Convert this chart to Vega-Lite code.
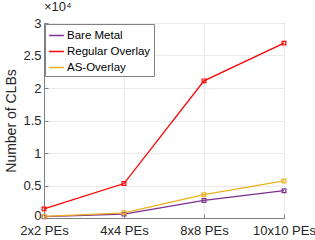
{
  "$schema": "https://vega.github.io/schema/vega-lite/v6.json",
  "width": 240,
  "height": 195,
  "autosize": {"type": "none"},
  "padding": {"left": 44, "top": 23, "right": 31, "bottom": 22},
  "background": "white",
  "title": {"text": "×10⁴", "anchor": "start", "frame": "group", "fontSize": 13, "fontWeight": "normal", "font": "Liberation Sans", "color": "#262626", "offset": 3, "dx": 0},
  "config": {
    "font": "Liberation Sans",
    "view": {"stroke": "#808080", "strokeWidth": 1},
    "axis": {"labelFont": "Liberation Sans", "titleFont": "Liberation Sans", "labelColor": "#262626", "titleColor": "#262626", "gridColor": "#ebebeb", "domainColor": "#808080", "tickColor": "#808080"}
  },
  "data": {"values": [
    {"pe": "2x2 PEs", "series": "Bare Metal", "clbs": 200},
    {"pe": "4x4 PEs", "series": "Bare Metal", "clbs": 600},
    {"pe": "8x8 PEs", "series": "Bare Metal", "clbs": 2700},
    {"pe": "10x10 PEs", "series": "Bare Metal", "clbs": 4200},
    {"pe": "2x2 PEs", "series": "Regular Overlay", "clbs": 1400},
    {"pe": "4x4 PEs", "series": "Regular Overlay", "clbs": 5300},
    {"pe": "8x8 PEs", "series": "Regular Overlay", "clbs": 21100},
    {"pe": "10x10 PEs", "series": "Regular Overlay", "clbs": 26900},
    {"pe": "2x2 PEs", "series": "AS-Overlay", "clbs": 250},
    {"pe": "4x4 PEs", "series": "AS-Overlay", "clbs": 800},
    {"pe": "8x8 PEs", "series": "AS-Overlay", "clbs": 3600},
    {"pe": "10x10 PEs", "series": "AS-Overlay", "clbs": 5700}
  ]},
  "mark": {"type": "line", "strokeWidth": 1.3, "point": {"shape": "square", "filled": false, "size": 14, "strokeWidth": 1.2}},
  "encoding": {
    "x": {"field": "pe", "type": "ordinal", "sort": ["2x2 PEs", "4x4 PEs", "8x8 PEs", "10x10 PEs"],
      "scale": {"type": "point", "padding": 0},
      "axis": {"title": null, "labelAngle": 0, "labelFontSize": 13, "grid": true, "tickSize": -4, "labelPadding": 10, "domain": true}},
    "y": {"field": "clbs", "type": "quantitative",
      "scale": {"domain": [0, 30000], "nice": false},
      "axis": {"title": "Number of CLBs", "titleFontSize": 14, "titleFontWeight": "normal", "titlePadding": 4, "values": [0, 5000, 10000, 15000, 20000, 25000, 30000], "labelExpr": "datum.value / 10000", "labelFontSize": 13, "tickSize": -4, "labelPadding": 7, "labelOffset": {"condition": {"test": "datum.value == 0", "value": -3}, "value": 0}, "grid": true}},
    "color": {"field": "series", "type": "nominal", "sort": ["Bare Metal", "Regular Overlay", "AS-Overlay"],
      "scale": {"domain": ["Bare Metal", "Regular Overlay", "AS-Overlay"], "range": ["#7E2F8E", "#FF0000", "#EDB120"]},
      "legend": {"title": null, "orient": "top-left", "offset": 1, "strokeColor": "#808080", "fillColor": "white", "padding": 3, "labelFontSize": 11.5, "labelColor": "#000000", "symbolType": "stroke", "symbolSize": 220, "symbolStrokeWidth": 1.5, "rowPadding": 2, "labelOffset": 2}}
  }
}
